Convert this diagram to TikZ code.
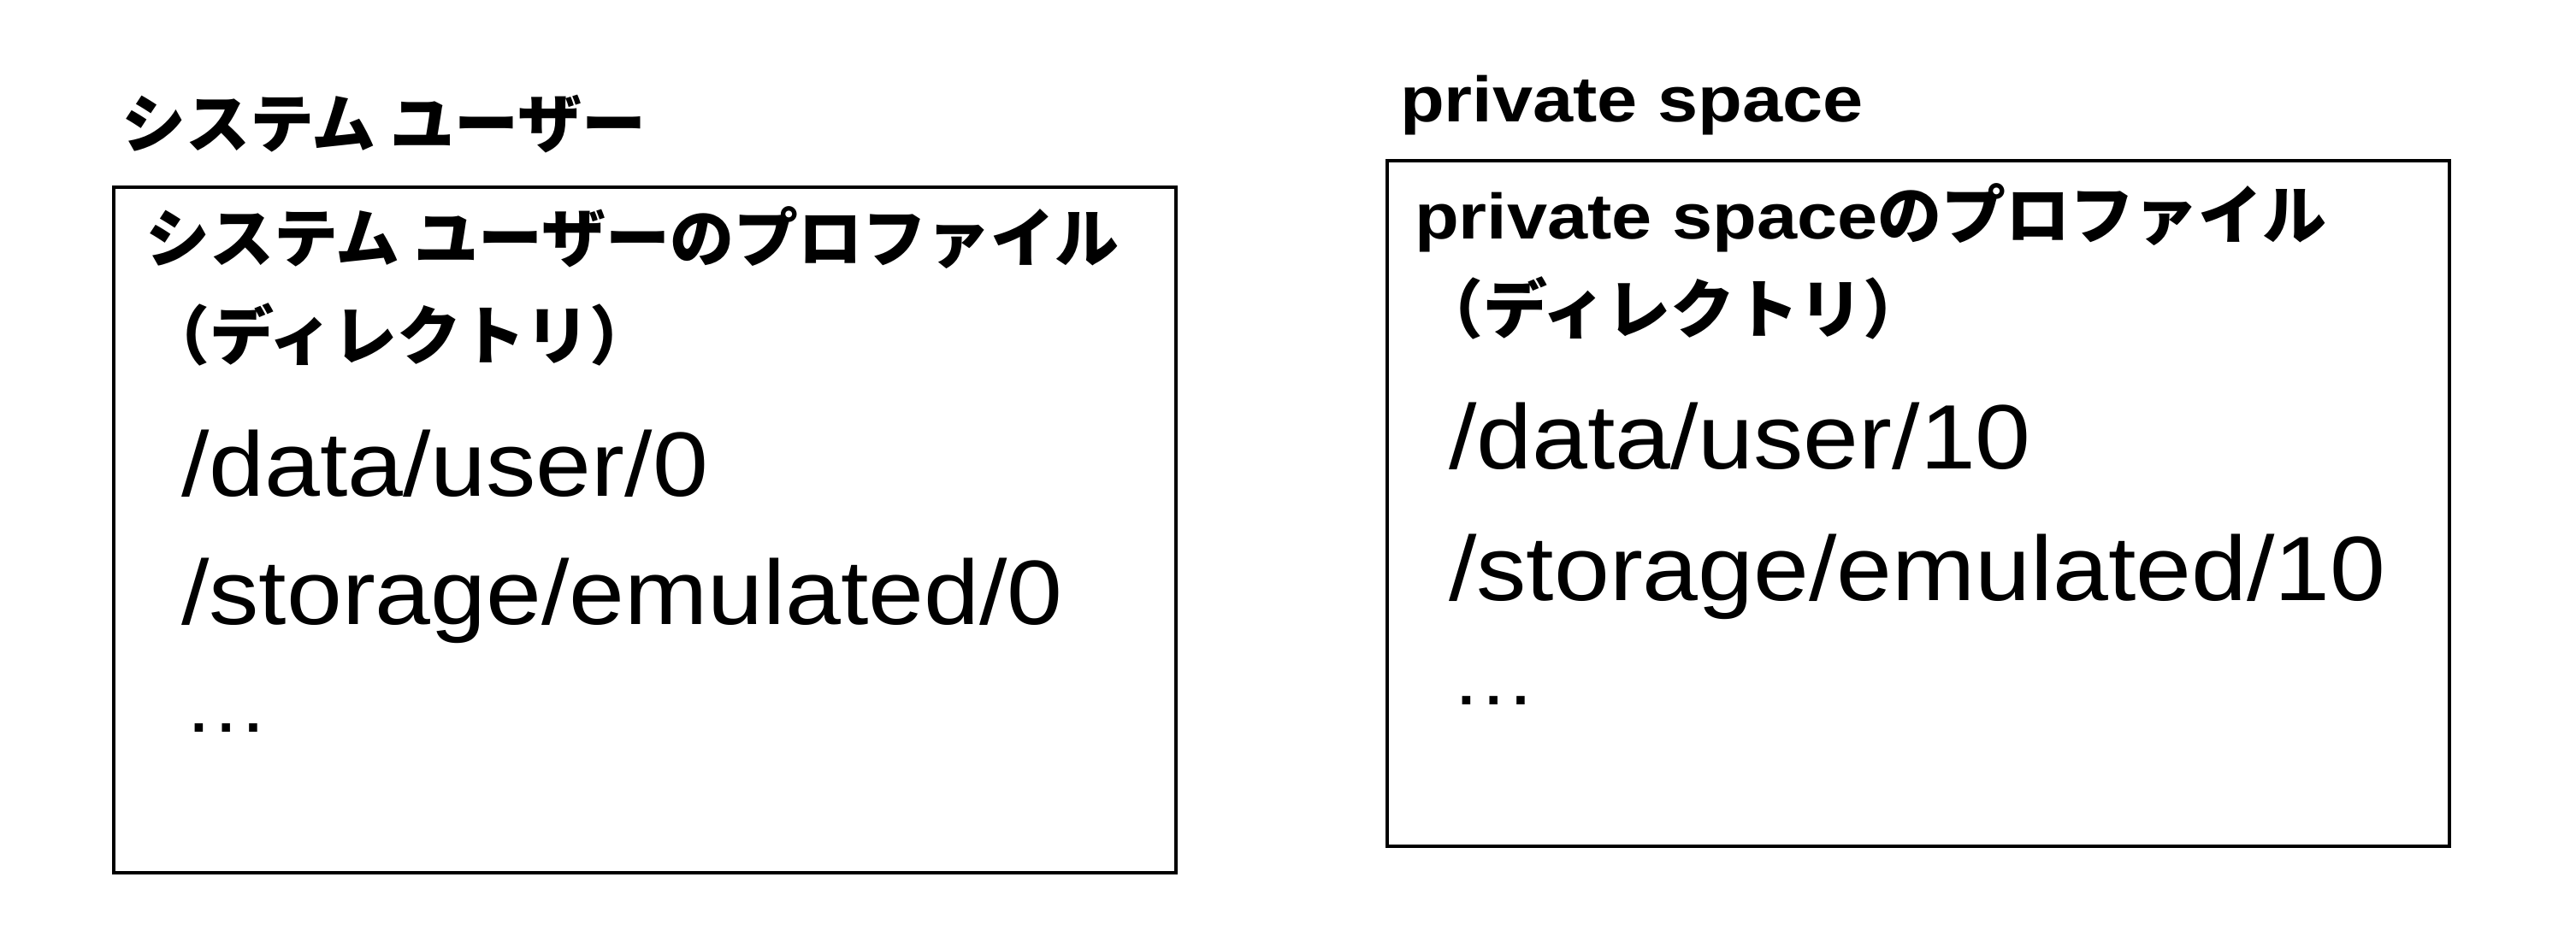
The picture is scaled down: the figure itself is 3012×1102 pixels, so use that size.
\documentclass[tikz,border=0pt]{standalone}
\usepackage{fontspec}
\setmainfont{Noto Sans CJK JP}
\newfontfamily\jpfont{Noto Sans CJK JP}
\newfontfamily\latb[FakeStretch=1.13]{Liberation Sans}
\newfontfamily\pathfont[FakeStretch=1.09]{Liberation Sans}
\begin{document}
\begin{tikzpicture}[x=0.25pt,y=-0.25pt,
  frame/.style={draw=black,line width=0.875pt,inner sep=0pt,outer sep=0pt,anchor=north west,
    minimum width=310.5pt,minimum height=200.5pt},
  txt/.style={inner sep=0pt,outer sep=0pt,anchor=base west},
  head/.style={txt,font=\fontsize{18.75pt}{22pt}\selectfont\bfseries},
  pathtxt/.style={txt,font=\fontsize{26.75pt}{30pt}\pathfont},
  dotstxt/.style={txt,font=\fontsize{23pt}{26pt}\pathfont}]
\useasboundingbox (0,0) rectangle (3012,1102);
% left group
\node[head] (ltitle) at (142,173) {\jpfont システム ユーザー};
\node[frame] (lbox) at (133,219) {};
\node[head] (lprof) at (170,307) {\jpfont システム ユーザーのプロファイル};
\node[head] (ldir) at (170,421) {\jpfont （ディレクトリ）};
\node[pathtxt] (lpath1) at (212,580) {/data/user/0};
\node[pathtxt] (lpath2) at (212,730) {/storage/emulated/0};
\node[dotstxt] (ldots) at (214,856) {…};
% right group
\node[head] (rtitle) at (1637,143) {{\latb private space}};
\node[frame] (rbox) at (1622,188) {};
\node[head] (rprof) at (1654,280) {{\latb private space}\jpfont のプロファイル};
\node[head] (rdir) at (1659,390) {\jpfont （ディレクトリ）};
\node[pathtxt] (rpath1) at (1694,548) {/data/user/10};
\node[pathtxt] (rpath2) at (1694,702) {/storage/emulated/10};
\node[dotstxt] (rdots) at (1696,824) {…};
\end{tikzpicture}
\end{document}
